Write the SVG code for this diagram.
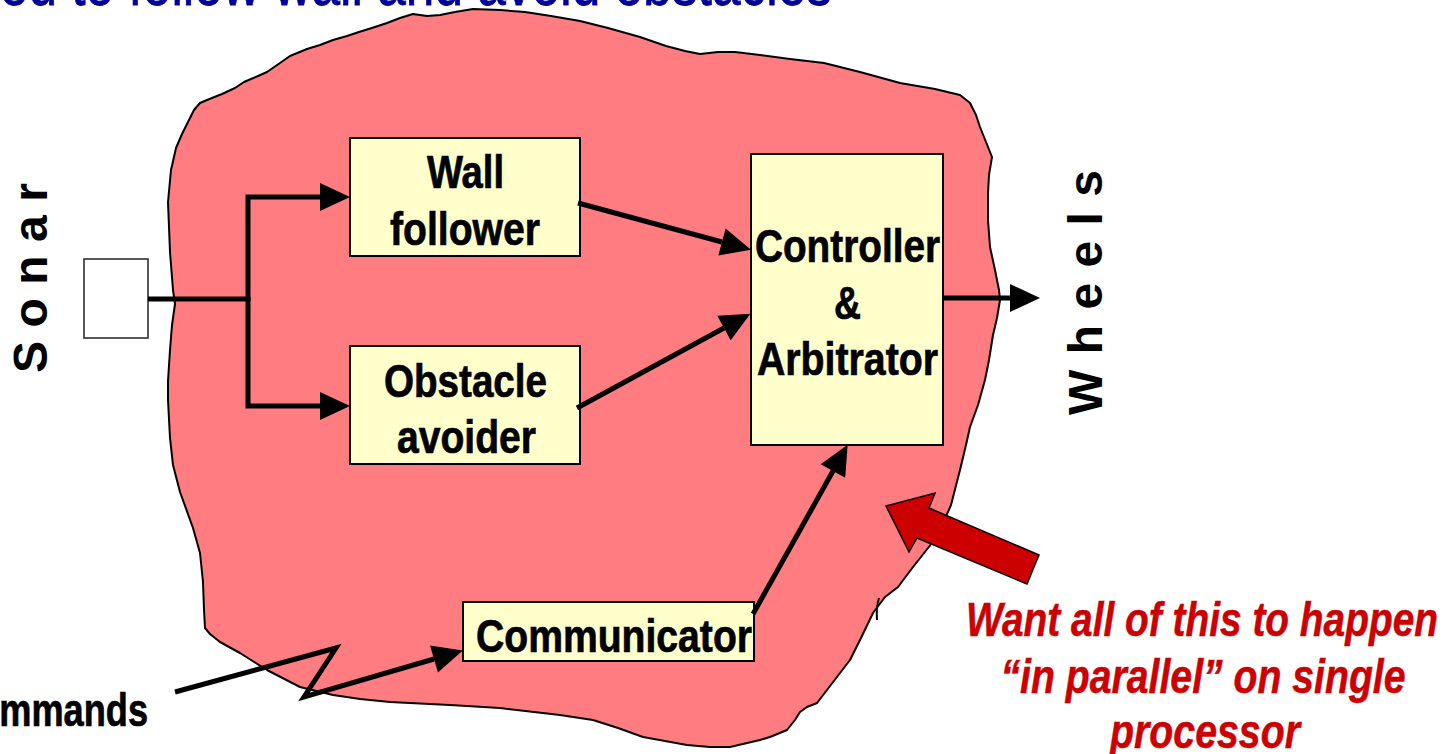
<svg xmlns="http://www.w3.org/2000/svg" width="1452" height="754" viewBox="0 0 1452 754">
  <style>
    .box { fill: #FFFFCC; stroke: #000; stroke-width: 2; }
    .lbl { font-family: "Liberation Sans", Arial, sans-serif; font-weight: bold; font-size: 46px; fill: #000; stroke: #000; stroke-width: 0.7px; }
    .side { font-family: "Liberation Sans", Arial, sans-serif; font-weight: bold; font-size: 48px; fill: #000; }
    .note { font-family: "Liberation Sans", Arial, sans-serif; font-weight: bold; font-style: italic; font-size: 49px; fill: #CC0000; stroke: #CC0000; stroke-width: 0.5px; text-anchor: middle; }
    .title { font-family: "Liberation Sans", Arial, sans-serif; font-size: 64px; fill: #000099; stroke: #000099; stroke-width: 0.8px; }
    .wire { fill: none; stroke: #000; stroke-width: 5; stroke-linejoin: miter; }
  </style>
  <defs>
    <marker id="head" markerUnits="userSpaceOnUse" markerWidth="32" markerHeight="30" refX="0" refY="14" orient="auto" overflow="visible">
      <path d="M0,0 L30,14 L0,28 Z" fill="#000"/>
    </marker>
  </defs>

  <rect width="1452" height="754" fill="#fff"/>

  <!-- slide heading, mostly above the visible area -->
  <text class="title" x="-66" y="5" textLength="898" lengthAdjust="spacingAndGlyphs">Need to follow wall and avoid obstacles</text>

  <!-- the process "cloud" -->
  <g id="cloud">
    <path fill="#FF7C80" stroke="#000" stroke-width="2" stroke-linejoin="round" d="M175,304 L173,290 L170,252 L168,202 L171,170 L176,148 L182,134 L190,118 L194,110 L200,103 L207,100 L222,94 L235,88 L244,82 L258,76 L267,72 L280,63 L290,56 L307,49 L320,45 L333,40 L347,36 L359,32 L375,27 L387,23 L400,18 L413,14 L420,15 L427,16 L440,15 L455,12 L473,9 L500,10 L525,12 L551,16 L580,21 L608,28 L640,37 L666,46 L685,51 L700,54 L718,52 L735,52 L760,55 L790,59 L824,63 L860,72 L900,83 L935,89 L960,95 L970,103 L976,115 L980,127 L986,142 L992,157 L989,175 L988,193 L988,220 L990,247 L995,270 L999,290 L1000,300 L997,318 L993,335 L989,360 L985,380 L978,405 L970,427 L966,445 L960,470 L951,505 L940,530 L932,543 L913,567 L898,587 L885,597 L873,613 L860,640 L850,660 L840,673 L827,690 L817,703 L807,707 L800,712 L795,720 L787,730 L770,737 L760,740 L730,747 L710,747 L687,745 L665,741 L643,737 L618,728 L593,720 L560,715 L500,708 L450,705 L390,702 L360,699 L333,695 L300,687 L267,670 L240,653 L220,642 L210,634 L205,628 L204,610 L203,582 L200,553 L193,528 L180,492 L173,465 L170,438 L168,400 L168,381 L170,350 L172,325 Z"/>
    <path d="M879,598 Q876,608 877,620" fill="none" stroke="#000" stroke-width="2"/>
  </g>

  <!-- sensor -->
  <g id="sonar">
    <rect x="84" y="259" width="64" height="79" fill="#fff" stroke="#222" stroke-width="1.5"/>
    <text class="side" transform="translate(47,373) rotate(-90)" textLength="190" lengthAdjust="spacing">S o n a r</text>
  </g>

  <g id="wall-follower">
    <rect class="box" x="350" y="138" width="230" height="118"/>
    <text class="lbl" x="427" y="188" textLength="77" lengthAdjust="spacingAndGlyphs">Wall</text>
    <text class="lbl" x="390" y="245" textLength="150" lengthAdjust="spacingAndGlyphs">follower</text>
  </g>

  <g id="obstacle-avoider">
    <rect class="box" x="350" y="346" width="230" height="118"/>
    <text class="lbl" x="384" y="397" textLength="163" lengthAdjust="spacingAndGlyphs">Obstacle</text>
    <text class="lbl" x="397" y="453" textLength="139" lengthAdjust="spacingAndGlyphs">avoider</text>
  </g>

  <g id="controller">
    <rect class="box" x="751" y="154" width="192" height="291"/>
    <text class="lbl" x="755" y="262" textLength="185" lengthAdjust="spacingAndGlyphs">Controller</text>
    <text class="lbl" x="834" y="319" textLength="27" lengthAdjust="spacingAndGlyphs">&amp;</text>
    <text class="lbl" x="757" y="375" textLength="181" lengthAdjust="spacingAndGlyphs">Arbitrator</text>
  </g>

  <g id="communicator">
    <rect class="box" x="463" y="602" width="291" height="59"/>
    <text class="lbl" x="476" y="652" textLength="276" lengthAdjust="spacingAndGlyphs">Communicator</text>
  </g>

  <g id="wheels">
    <text class="side" transform="translate(1102,415) rotate(-90)" textLength="245" lengthAdjust="spacing">W h e e l s</text>
  </g>

  <g id="commands">
    <text class="lbl" x="-49" y="726" textLength="197" lengthAdjust="spacingAndGlyphs">Commands</text>
  </g>

  <!-- connectors -->
  <g id="connectors">
    <path class="wire" d="M148,299 H250"/>
    <path class="wire" d="M248,301 V197 H320" marker-end="url(#head)"/>
    <path class="wire" d="M248,297 V406 H320" marker-end="url(#head)"/>
    <path class="wire" d="M578,203 L722,242" marker-end="url(#head)"/>
    <path class="wire" d="M577,408 L724,328" marker-end="url(#head)"/>
    <path class="wire" d="M753,614 L833,471" marker-end="url(#head)"/>
    <path class="wire" d="M943,298 H1010" stroke-width="3" marker-end="url(#head)"/>
    <path class="wire" d="M175,692 L336,648 L304,697 L434,659" marker-end="url(#head)"/>
  </g>

  <!-- callout -->
  <g id="callout">
    <polygon points="886,506 935,493 929,508 1039,555 1027,584 917,538 909,552" fill="#CC0000" stroke="#000" stroke-width="1.5" stroke-linejoin="miter"/>
    <text class="note" x="1202" y="636" textLength="472" lengthAdjust="spacingAndGlyphs">Want all of this to happen</text>
    <text class="note" x="1203" y="693" textLength="405" lengthAdjust="spacingAndGlyphs">“in parallel” on single</text>
    <text class="note" x="1205" y="748" textLength="190" lengthAdjust="spacingAndGlyphs">processor</text>
  </g>
</svg>
